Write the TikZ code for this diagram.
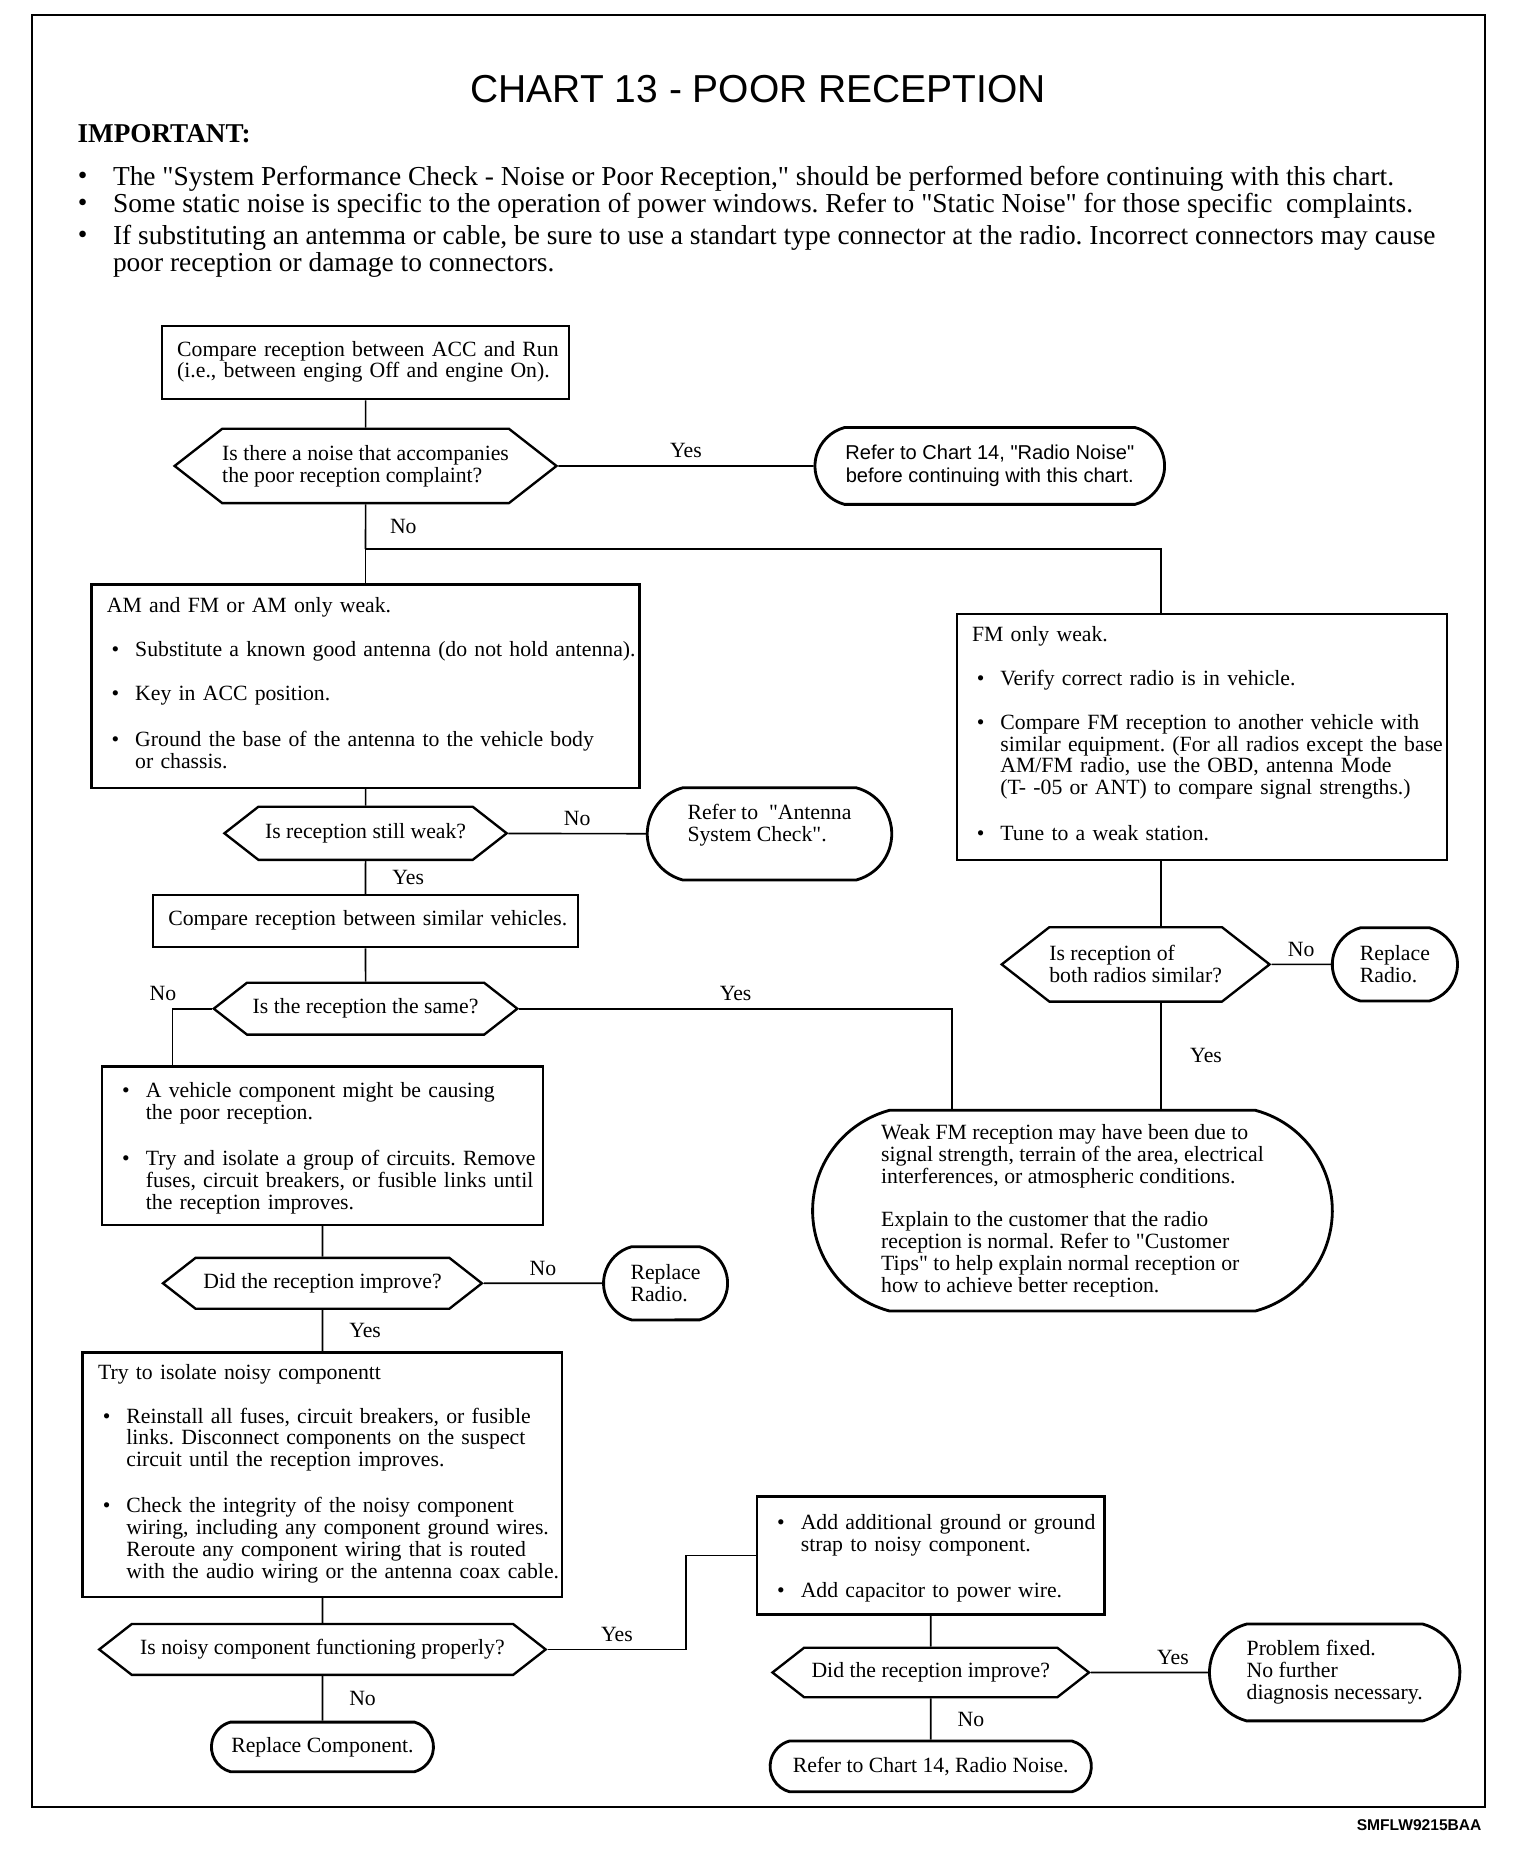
\documentclass[tikz,border=0pt]{standalone}
\usepackage{fontspec}
\setmainfont{Liberation Serif}
\setsansfont{Liberation Sans}
\usetikzlibrary{shapes.symbols,shapes.misc}
\setlength{\parindent}{0pt}
\frenchspacing
\newlength{\gapsize}
\setlength{\gapsize}{9.25pt}
\newcommand{\chartfont}{\fontsize{9.2}{9.25}\selectfont}
\newcommand{\dq}{\textquotedbl}
\newcommand{\lines}[1]{\begin{tabular}[t]{@{}l@{}}#1\end{tabular}}
\newcommand{\bitem}[2][\gapsize]{\par\vspace{#1}\makebox[12pt][l]{\hspace{2pt}\textbullet}\lines{#2}\par}

\begin{document}
\begin{tikzpicture}[x=0.5pt,y=-0.5pt,line width=0.7pt]
	\def \colmain{309.5}
	\def \collow{273}
	\def \colgnd{788}
	\tikzstyle{b-node}=[rectangle,draw=black,line width=1pt,inner xsep=6.5pt,inner ysep=0pt,align=left,font=\chartfont]
	\tikzstyle{q-node}=[signal,signal to=west and east,signal pointer angle=76,draw=black,line width=1pt,inner xsep=0pt,inner ysep=0pt,align=left,font=\chartfont]
	\tikzstyle{t-node}=[rounded rectangle,rounded rectangle arc length=150,draw=black,line width=1.2pt,inner sep=0pt,align=left,font=\chartfont]
	\tikzstyle{a-label}=[font=\chartfont,inner sep=3pt]
	\tikzstyle{note}=[font=\fontsize{11.6}{11.5}\selectfont,inner sep=0pt,align=left]
	\useasboundingbox (0,0) rectangle (1300,1568);
	\draw[line width=0.8pt] (27,13) rectangle (1257,1530);

	% heading
	\node[font=\sffamily\fontsize{16.5}{18}\selectfont] (title) at (642,75) {CHART 13 - POOR RECEPTION};
	\node[font=\bfseries\fontsize{11.5}{12}\selectfont,anchor=west,inner sep=0pt] (imp) at (65,113) {IMPORTANT:};
	\node[note] (d1) at (70,151) {\textbullet};
	\node[note] (d2) at (70,174) {\textbullet};
	\node[note] (d3) at (70,201) {\textbullet};
	\node[note,anchor=west] (n1) at (95,151) {The \dq System Performance Check - Noise or Poor Reception,\dq\ should be performed before continuing with this chart.};
	\node[note,anchor=west] (n2) at (95,174) {Some static noise is specific to the operation of power windows. Refer to \dq Static Noise\dq\ for those specific \ complaints.};
	\node[note,anchor=west] (n3) at (95,212.5) {If substituting an antemma or cable, be sure to use a standart type connector at the radio. Incorrect connectors may cause\\poor reception or damage to connectors.};

	% left column
	\node[b-node,text width=159.5pt,minimum height=31pt] (acc) at (\colmain,307) {\lines{Compare reception between ACC and Run\\(i.e., between enging Off and engine On).}};
	\node[q-node,minimum width=158.5pt,minimum height=31.5pt] (qnoise) at (\colmain,394.5) {Is there a noise that accompanies\\the poor reception complaint?};
	\node[t-node,font=\sffamily\fontsize{8.5}{10}\selectfont,align=center,minimum width=148pt,minimum height=32.5pt] (tnoise) at (838,394.5) {Refer to Chart 14, \dq Radio Noise\dq\\before continuing with this chart.};
	\coordinate (split) at (\colmain,465);
	\coordinate (fmtop) at (983,465);

	\node[b-node,text width=219pt,minimum height=86pt] (amweak) at (\colmain,581) {AM and FM or AM only weak.
		\bitem{Substitute a known good antenna (do not hold antenna).}
		\bitem{Key in ACC position.}
		\bitem{Ground the base of the antenna to the vehicle body\\or chassis.}};
	\node[q-node,minimum width=119.5pt,minimum height=22.5pt] (qweak) at (\colmain,705.5) {Is reception still weak?};
	\node[t-node,minimum width=103.5pt,minimum height=39pt] (tant) at (651.5,706) {Refer to \ \dq Antenna\\System Check\dq.\\\mbox{}};
	\node[b-node,text width=167pt,align=center,minimum height=22pt] (simveh) at (\colmain,780) {\lines{Compare reception between similar vehicles.}};
	\node[q-node,minimum width=128.5pt,minimum height=22pt] (qsame) at (\colmain,854) {Is the reception the same?};
	\coordinate (cmpin) at (146,903);
	\coordinate (fmjoin) at (806,940);

	\node[b-node,text width=173.5pt,minimum height=67pt] (vehcomp) at (\collow,970) {\bitem[0pt]{A vehicle component might be causing\\the poor reception.}
		\bitem{Try and isolate a group of circuits. Remove\\fuses, circuit breakers, or fusible links until\\the reception improves.}};
	\node[q-node,minimum width=135pt,minimum height=21.5pt] (qimpr) at (\collow,1086.5) {Did the reception improve?};
	\node[t-node,minimum width=52.5pt,minimum height=31pt] (tradioA) at (563.5,1086.5) {Replace\\Radio.};

	\node[b-node,text width=190pt,minimum height=103.5pt] (isonoisy) at (\collow,1248.5) {Try to isolate noisy componentt
		\bitem{Reinstall all fuses, circuit breakers, or fusible\\links. Disconnect components on the suspect\\circuit until the reception improves.}
		\bitem{Check the integrity of the noisy component\\wiring, including any component ground wires.\\Reroute any component wiring that is routed\\with the audio wiring or the antenna coax cable.}};
	\node[q-node,minimum width=189pt,minimum height=21.5pt] (qfunc) at (\collow,1396.5) {Is noisy component functioning properly?};
	\node[t-node,minimum width=94pt,minimum height=21pt] (tcomp) at (\collow,1479) {Replace Component.};
	\coordinate (gndjoin) at (581,1317);

	% lower right
	\node[b-node,text width=134pt,minimum height=50pt] (gndcap) at (\colgnd,1317) {\bitem[0pt]{Add additional ground or ground\\strap to noisy component.}
		\bitem{Add capacitor to power wire.}};
	\node[q-node,minimum width=134pt,minimum height=21pt] (qimprB) at (\colgnd,1416) {Did the reception improve?};
	\node[t-node,minimum width=106pt,minimum height=41pt] (tfixed) at (1130,1416) {Problem fixed.\\No further\\diagnosis necessary.};
	\node[t-node,minimum width=136pt,minimum height=21.5pt] (tchart) at (\colgnd,1495.5) {Refer to Chart 14, Radio Noise.};

	% right column
	\node[b-node,text width=194.5pt,minimum height=104pt] (fmweak) at (1017.5,624) {FM only weak.
		\bitem{Verify correct radio is in vehicle.}
		\bitem{Compare FM reception to another vehicle with\\similar equipment. (For all radios except the base\\AM/FM radio, use the OBD, antenna Mode\\(T- -05 or ANT) to compare signal strengths.)}
		\bitem{Tune to a weak station.}};
	\node[q-node,minimum width=109.5pt,minimum height=31.5pt] (qboth) at (961.5,816.5) {Is reception of\\both radios similar?};
	\node[t-node,minimum width=53pt,minimum height=31pt] (tradioB) at (1181,816.5) {Replace\\Radio.};
	\node[t-node,minimum width=220pt,minimum height=85pt] (tweak) at (908,1025) {Weak FM reception may have been due to\\signal strength, terrain of the area, electrical\\interferences, or atmospheric conditions.\\[9.25pt]Explain to the customer that the radio\\reception is normal. Refer to \dq Customer\\Tips\dq\ to help explain normal reception or\\how to achieve better reception.};

	\node[font=\sffamily\bfseries\fontsize{6.6}{7}\selectfont,anchor=east,inner sep=0pt] (code) at (1255,1545) {SMFLW9215BAA};

	\path
		(acc)	edge	(qnoise)
		(qnoise)	edge	node[a-label,above]	{Yes}	(tnoise)
		(qnoise)	edge	node[a-label,right=7pt]	{No}	(split)
		(split)	edge	(amweak)
		(amweak)	edge	(qweak)
		(qweak)	edge	node[a-label,above]	{No}	(tant)
		(qweak)	edge	node[a-label,right=8pt]	{Yes}	(simveh)
		(simveh)	edge	(qsame)
		(vehcomp)	edge	(qimpr)
		(qimpr)	edge	node[a-label,above]	{No}	(tradioA)
		(qimpr)	edge	node[a-label,right=8pt]	{Yes}	(isonoisy)
		(isonoisy)	edge	(qfunc)
		(qfunc)	edge	node[a-label,right=8pt]	{No}	(tcomp)
		(gndcap)	edge	(qimprB)
		(qimprB)	edge	node[a-label,above,pos=0.7]	{Yes}	(tfixed)
		(qimprB)	edge	node[a-label,right=8pt]	{No}	(tchart)
		(qboth)	edge	node[a-label,above]	{No}	(tradioB);

	\draw (split) -- (fmtop) -- (fmtop |- fmweak.north);
	\draw (fmweak.south -| fmtop) -- (qboth.north -| fmtop);
	\draw (qboth.south -| fmtop) -- node[a-label,right=9pt] {Yes} (tweak.north -| fmtop);
	\draw (qsame.west) -| node[a-label,above,xshift=-4pt] {No} (cmpin);
	\draw (qsame.east) -| node[a-label,above,pos=0.25] {Yes} (fmjoin);
	\draw (qfunc.east) -| node[a-label,above,pos=0.25] {Yes} (gndjoin) -- (gndcap.west);
\end{tikzpicture}
\end{document}
